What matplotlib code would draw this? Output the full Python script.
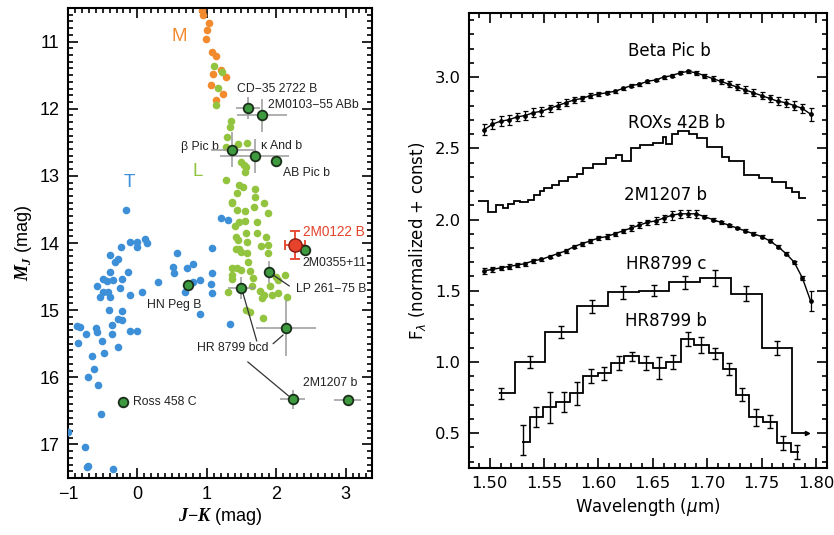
import matplotlib
matplotlib.use('Agg')
import matplotlib.pyplot as plt
from matplotlib.ticker import MultipleLocator, FixedLocator

plt.rcParams['mathtext.fontset'] = 'custom'
plt.rcParams['mathtext.rm'] = 'DejaVu Sans'
plt.rcParams['mathtext.it'] = 'DejaVu Sans:italic'
plt.rcParams['mathtext.bf'] = 'Liberation Serif:bold'
plt.rcParams['mathtext.bfit'] = 'Liberation Serif:bold:italic'

# ---------------- Left panel data (J-K, M_J) ----------------
m_jk = [0.93, 0.95, 1.03, 1.01, 0.99, 1.08, 1.14, 1.20, 1.27, 1.09, 1.06, 1.23, 1.14]
m_mj = [10.53, 10.60, 10.72, 10.82, 10.96, 11.15, 11.22, 11.42, 11.52, 11.49, 11.64, 11.78, 11.87]

l_jk = [1.10, 1.22, 1.16, 1.14,
        1.35, 1.33, 1.29, 1.27, 1.45, 1.58,
        1.50, 1.53, 1.56, 1.55,
        1.27, 1.46, 1.52, 1.69, 1.43, 1.69,
        1.36, 1.37, 1.83, 1.68, 1.43, 1.55, 1.88,
        1.46, 1.55, 1.73, 1.40, 1.56, 1.73, 1.42,
        1.86, 1.45, 1.58, 1.88, 1.47, 1.50, 1.42,
        1.58, 1.78, 1.88, 1.60, 1.36, 1.43,
        1.50, 1.62, 1.37, 1.37, 1.66, 2.12, 2.00,
        2.02, 1.30, 1.65, 1.76, 1.91, 1.83,
        1.94, 2.02, 2.15, 1.79, 1.62, 1.57, 1.81]
l_mj = [11.36, 11.46, 11.69, 11.94,
        12.19, 12.27, 12.42, 12.57, 12.52, 12.51,
        12.79, 12.84, 12.87, 12.94,
        13.06, 13.13, 13.16, 13.19, 13.25, 13.31,
        13.39, 13.40, 13.40, 13.46, 13.51, 13.52, 13.55,
        13.69, 13.67, 13.69, 13.75, 13.85, 13.85, 13.91,
        13.91, 13.96, 13.99, 14.03, 14.09, 14.13, 14.09,
        14.15, 14.04, 14.15, 14.28, 14.37, 14.37,
        14.40, 14.42, 14.48, 14.54, 14.52, 14.48, 14.50,
        14.55, 14.73, 14.64, 14.72, 14.64, 14.78,
        14.78, 14.75, 14.81, 14.82, 15.03, 15.00, 15.12]

t_jk = [-0.17, -0.11, -0.01, 0.11, 0.14, -0.01, -0.24, -0.40, -0.28, -0.32,
        -0.40, -0.14, -0.50, -0.44, -0.35, -0.22, -0.58, -0.25, -0.50, -0.42,
        -0.54, -0.40, -0.11, 0.06, 0.29, 0.57, 0.51, 0.53, 0.71, 0.80,
        0.90, 0.80, 0.68, 1.07, 1.07, 1.06, 1.07, 1.20, 1.30, -0.41,
        -0.22, 0.90, 1.33, -0.87, -0.83, -0.60, -0.58, -0.37, -0.28, -0.22,
        -0.11, -0.01, -0.37, -0.74, -0.86, -0.51, -0.28, -0.48, -0.66, -0.63,
        -0.71, -0.57, -0.53, -1.00, -0.76, -0.73, -0.71, -0.35]
t_mj = [13.51, 13.99, 13.99, 13.94, 14.00, 14.06, 14.06, 14.18, 14.24, 14.28,
        14.43, 14.43, 14.54, 14.57, 14.55, 14.54, 14.64, 14.67, 14.73, 14.73,
        14.81, 14.81, 14.78, 14.73, 14.58, 14.15, 14.36, 14.45, 14.37, 14.31,
        14.55, 14.58, 14.73, 14.07, 14.45, 14.61, 14.74, 13.63, 13.66, 15.00,
        15.01, 15.05, 15.20, 15.24, 15.25, 15.27, 15.33, 15.22, 15.13, 15.15,
        15.31, 15.31, 15.36, 15.36, 15.49, 15.46, 15.55, 15.64, 15.69, 15.87,
        16.00, 16.11, 16.55, 16.82, 17.04, 17.34, 17.32, 17.36]

# young companions
comp_jk   = [1.59, 1.79, 1.37, 1.69, 2.00, 2.41, 1.89, 0.73, 1.50, 2.14, 2.24, 3.03, -0.21]
comp_mj   = [11.99, 12.10, 12.61, 12.70, 12.78, 14.10, 14.43, 14.63, 14.67, 15.27, 16.33, 16.34, 16.37]
comp_xerr = [0.17, 0.36, 0.31, 0.50, 0.06, 0.05, 0.05, 0.03, 0.20, 0.43, 0.18, 0.19, 0.0]
comp_yerr = [0.17, 0.25, 0.26, 0.25, 0.06, 0.05, 0.16, 0.03, 0.17, 0.42, 0.14, 0.06, 0.0]

# 2M0122 B
red_jk, red_mj, red_xerr, red_yerr = 2.27, 14.03, 0.14, 0.21

# ---------------- Right panel data (spectra) ----------------
grid_wl = [1.495, 1.5025, 1.51, 1.5175, 1.525, 1.5325, 1.54, 1.5475, 1.555, 1.5625,
           1.57, 1.5775, 1.585, 1.5925, 1.60, 1.6075, 1.615, 1.6225, 1.63, 1.6375,
           1.645, 1.6525, 1.66, 1.6675, 1.675, 1.6825, 1.69, 1.6975, 1.705, 1.7125,
           1.72, 1.7275, 1.735, 1.7425, 1.75, 1.7575, 1.765, 1.7725, 1.78, 1.7875, 1.795]

beta_flux = [2.63, 2.67, 2.69, 2.70, 2.72, 2.73, 2.75, 2.76, 2.78, 2.80,
             2.82, 2.84, 2.85, 2.87, 2.88, 2.89, 2.90, 2.92, 2.94, 2.95,
             2.97, 2.98, 3.00, 3.01, 3.03, 3.04, 3.03, 3.01, 2.99, 2.97,
             2.95, 2.93, 2.91, 2.89, 2.87, 2.85, 2.83, 2.82, 2.80, 2.78, 2.74]
beta_err = [0.04, 0.035, 0.035, 0.035, 0.03, 0.03, 0.03, 0.03, 0.025, 0.025,
            0.025, 0.02, 0.02, 0.015, 0.015, 0.012, 0.012, 0.01, 0.01, 0.01,
            0.01, 0.01, 0.01, 0.01, 0.01, 0.01, 0.012, 0.015, 0.018, 0.02,
            0.02, 0.022, 0.025, 0.025, 0.025, 0.025, 0.028, 0.028, 0.03, 0.03, 0.045]

m1207_flux = [1.64, 1.65, 1.66, 1.67, 1.68, 1.69, 1.71, 1.72, 1.74, 1.76,
              1.78, 1.81, 1.83, 1.85, 1.87, 1.88, 1.90, 1.92, 1.94, 1.96,
              1.98, 1.99, 2.01, 2.03, 2.04, 2.04, 2.04, 2.02, 2.00, 1.98,
              1.96, 1.94, 1.92, 1.90, 1.88, 1.85, 1.81, 1.76, 1.70, 1.59, 1.43]
m1207_err = [0.02, 0.02, 0.015, 0.015, 0.015, 0.015, 0.015, 0.012, 0.012, 0.012,
             0.012, 0.012, 0.015, 0.015, 0.015, 0.015, 0.015, 0.015, 0.02, 0.02,
             0.02, 0.025, 0.025, 0.03, 0.03, 0.025, 0.03, 0.01, 0.01, 0.01,
             0.01, 0.01, 0.01, 0.01, 0.01, 0.01, 0.01, 0.01, 0.012, 0.015, 0.07]

roxs_edges = [1.489, 1.498, 1.506, 1.512, 1.517, 1.522, 1.528, 1.535, 1.541, 1.546,
              1.550, 1.557, 1.564, 1.572, 1.580, 1.586, 1.595, 1.607, 1.616, 1.622,
              1.630, 1.638, 1.650, 1.659, 1.662, 1.668, 1.673, 1.683, 1.691, 1.700,
              1.714, 1.720, 1.734, 1.748, 1.760, 1.772, 1.778, 1.784, 1.791]
roxs_flux = [2.13, 2.05, 2.10, 2.08, 2.11, 2.13, 2.12, 2.14, 2.17, 2.20,
             2.22, 2.24, 2.27, 2.30, 2.32, 2.36, 2.39, 2.43, 2.45, 2.41,
             2.50, 2.52, 2.54, 2.58, 2.53, 2.60, 2.62, 2.60, 2.57, 2.51,
             2.44, 2.41, 2.31, 2.29, 2.26, 2.22, 2.19, 2.15]

hrc_edges = [1.5085, 1.523, 1.551, 1.580, 1.6085, 1.637, 1.665, 1.693, 1.722, 1.750, 1.778, 1.792]
hrc_flux = [0.78, 1.00, 1.21, 1.39, 1.49, 1.50, 1.56, 1.59, 1.48, 1.10, 0.50]
hrc_wl = [1.510, 1.537, 1.566, 1.594, 1.623, 1.651, 1.680, 1.707, 1.736, 1.764]
hrc_pt = [0.78, 1.00, 1.21, 1.39, 1.49, 1.50, 1.56, 1.59, 1.48, 1.10]
hrc_err = [0.04, 0.04, 0.045, 0.045, 0.045, 0.04, 0.045, 0.055, 0.055, 0.05]

hrb_edges = [1.530, 1.5367, 1.5489, 1.5612, 1.5734, 1.5862, 1.5994, 1.6116, 1.6239, 1.6370,
             1.6498, 1.6621, 1.6758, 1.6881, 1.7012, 1.7141, 1.7263, 1.7385, 1.7514, 1.7645,
             1.7768, 1.7844]
hrb_flux = [0.44, 0.61, 0.68, 0.72, 0.78, 0.90, 0.92, 0.99, 1.04, 0.99,
            0.96, 1.00, 1.16, 1.12, 1.06, 0.95, 0.77, 0.61, 0.58, 0.43, 0.37]
hrb_wl = [1.5306, 1.5428, 1.5550, 1.5679, 1.5801, 1.5927, 1.6055, 1.6186, 1.6309, 1.6437,
          1.6560, 1.6688, 1.6820, 1.6942, 1.7070, 1.7196, 1.7324, 1.7446, 1.7575, 1.7697, 1.7829]
hrb_pt = [0.45, 0.61, 0.68, 0.72, 0.78, 0.90, 0.92, 0.99, 1.04, 0.99,
          0.96, 1.00, 1.16, 1.12, 1.06, 0.95, 0.77, 0.61, 0.58, 0.43, 0.37]
hrb_err = [0.105, 0.07, 0.107, 0.07, 0.082, 0.049, 0.047, 0.049, 0.031, 0.049,
           0.078, 0.047, 0.047, 0.058, 0.038, 0.044, 0.047, 0.058, 0.047, 0.047, 0.049]

# ---------------- Figure ----------------
fig = plt.figure(figsize=(8.34, 5.35), dpi=100)
ax1 = fig.add_axes([0.0815, 0.1065, 0.3645, 0.8785])
ax2 = fig.add_axes([0.5624, 0.1252, 0.4290, 0.8505])

C_ORANGE = '#F28A2E'
C_BLUE = '#3D8FD8'
C_LIME = '#93C43F'
C_GREEN = '#3E9A3E'
C_RED = '#E5432B'
C_GRAY = '#9a9a9a'
LF = 'Liberation Sans'

ax1.scatter(m_jk, m_mj, s=30, color=C_ORANGE, lw=0, zorder=2)
ax1.scatter(l_jk, l_mj, s=30, color=C_LIME, lw=0, zorder=3)
ax1.scatter(t_jk, t_mj, s=30, color=C_BLUE, lw=0, zorder=3)

ax1.errorbar(comp_jk, comp_mj, xerr=comp_xerr, yerr=comp_yerr, fmt='none',
             ecolor=C_GRAY, elinewidth=1.1, capsize=0, zorder=4)
ax1.scatter(comp_jk, comp_mj, s=48, color=C_GREEN, edgecolors='#1a2e1a', linewidths=1.3, zorder=6)

ax1.errorbar([red_jk], [red_mj], xerr=[red_xerr], yerr=[red_yerr], fmt='none',
             ecolor=C_RED, elinewidth=1.3, capsize=3.5, capthick=1.3, zorder=5)
ax1.scatter([red_jk], [red_mj], s=90, color=C_RED, edgecolors='#8a1a10', linewidths=1.0, zorder=7)

# leader lines
lc = '#333333'
ax1.annotate('', xy=(comp_jk[6], comp_mj[6]), xytext=(2.19, 14.64),
             arrowprops=dict(arrowstyle='-', color=lc, lw=0.9, shrinkA=0, shrinkB=4))
ax1.annotate('', xy=(comp_jk[8], comp_mj[8]), xytext=(1.72, 15.46),
             arrowprops=dict(arrowstyle='-', color=lc, lw=0.9, shrinkA=0, shrinkB=4))
ax1.annotate('', xy=(2.10, 15.37), xytext=(1.955, 15.50),
             arrowprops=dict(arrowstyle='-', color=lc, lw=0.9, shrinkA=0, shrinkB=0))
ax1.annotate('', xy=(comp_jk[10], comp_mj[10]), xytext=(1.59, 15.77),
             arrowprops=dict(arrowstyle='-', color=lc, lw=0.9, shrinkA=0, shrinkB=4))

fs = 8.8
tc = '#222222'
ax1.text(0.61, 10.92, 'M', color=C_ORANGE, fontsize=13.5, family=LF, ha='center', va='center')
ax1.text(-0.11, 13.10, 'T', color=C_BLUE, fontsize=13.5, family=LF, ha='center', va='center')
ax1.text(0.87, 12.94, 'L', color=C_LIME, fontsize=13.5, family=LF, ha='center', va='center')
ax1.text(1.44, 11.70, 'CD\u221235 2722 B', fontsize=fs, family=LF, color=tc, va='center')
ax1.text(1.88, 11.94, '2M0103\u221255 ABb', fontsize=fs, family=LF, color=tc, va='center')
ax1.text(1.18, 12.57, '\u03b2 Pic b', fontsize=fs, family=LF, color=tc, va='center', ha='right')
ax1.text(1.78, 12.56, '\u03ba And b', fontsize=fs, family=LF, color=tc, va='center')
ax1.text(2.10, 12.96, 'AB Pic b', fontsize=fs, family=LF, color=tc, va='center')
ax1.text(2.38, 13.84, '2M0122 B', fontsize=9.8, family=LF, color=C_RED, va='center')
ax1.text(2.38, 14.30, '2M0355+11', fontsize=fs, family=LF, color=tc, va='center')
ax1.text(2.29, 14.68, 'LP 261\u221275 B', fontsize=fs, family=LF, color=tc, va='center')
ax1.text(0.14, 14.92, 'HN Peg B', fontsize=fs, family=LF, color=tc, va='center')
ax1.text(0.86, 15.56, 'HR 8799 bcd', fontsize=fs, family=LF, color=tc, va='center')
ax1.text(2.38, 16.08, '2M1207 b', fontsize=fs, family=LF, color=tc, va='center')
ax1.text(-0.06, 16.37, 'Ross 458 C', fontsize=fs, family=LF, color=tc, va='center')

ax1.set_xlim(-1.0, 3.38)
ax1.set_ylim(17.5, 10.5)
ax1.xaxis.set_major_locator(FixedLocator([-1, 0, 1, 2, 3]))
ax1.xaxis.set_minor_locator(MultipleLocator(0.1))
ax1.yaxis.set_major_locator(FixedLocator([11, 12, 13, 14, 15, 16, 17]))
ax1.yaxis.set_minor_locator(MultipleLocator(0.1))
ax1.set_xticklabels(['\u22121', '0', '1', '2', '3'])
ax1.tick_params(which='both', direction='in', top=True, right=True, width=1.2)
ax1.tick_params(which='major', length=7, labelsize=13, pad=6)
ax1.tick_params(which='minor', length=3.5)
for lab in ax1.get_xticklabels() + ax1.get_yticklabels():
    lab.set_family(LF)
for sp in ax1.spines.values():
    sp.set_linewidth(1.5)
ax1.set_xlabel(r'$\mathbfit{J}\mathbf{-}\mathbfit{K}$ (mag)', fontsize=13, family=LF, labelpad=2)
ax1.set_ylabel(r'$\mathbfit{M}_{\mathbfit{J}}$ (mag)', fontsize=13, family=LF, labelpad=4)

# ---------------- Right panel ----------------
k = 'black'
ax2.errorbar(grid_wl, beta_flux, yerr=beta_err, fmt='-o', color=k, ms=2.4, lw=1.0,
             elinewidth=0.9, capsize=1.8, capthick=0.9)
ax2.stairs(roxs_flux, roxs_edges, baseline=None, color=k, lw=1.3)
ax2.errorbar(grid_wl, m1207_flux, yerr=m1207_err, fmt='-o', color=k, ms=2.4, lw=1.0,
             elinewidth=0.9, capsize=1.8, capthick=0.9)
ax2.stairs(hrc_flux, hrc_edges, baseline=None, color=k, lw=1.3)
ax2.errorbar(hrc_wl, hrc_pt, yerr=hrc_err, fmt='none', ecolor=k, elinewidth=1.0,
             capsize=2.5, capthick=1.0)
ax2.plot([hrc_edges[-1]], [hrc_flux[-1]], marker='>', ms=3, color=k)
ax2.stairs(hrb_flux, hrb_edges, baseline=None, color=k, lw=1.3)
ax2.errorbar(hrb_wl, hrb_pt, yerr=hrb_err, fmt='none', ecolor=k, elinewidth=1.0,
             capsize=2.5, capthick=1.0)

RF = 'DejaVu Sans'
rfs = 12
ax2.text(1.665, 3.18, 'Beta Pic b', fontsize=rfs, family=RF, ha='center', va='center')
ax2.text(1.672, 2.68, 'ROXs 42B b', fontsize=rfs, family=RF, ha='center', va='center')
ax2.text(1.662, 2.175, '2M1207 b', fontsize=rfs, family=RF, ha='center', va='center')
ax2.text(1.662, 1.685, 'HR8799 c', fontsize=rfs, family=RF, ha='center', va='center')
ax2.text(1.662, 1.287, 'HR8799 b', fontsize=rfs, family=RF, ha='center', va='center')

ax2.set_xlim(1.481, 1.81)
ax2.set_ylim(0.255, 3.45)
ax2.xaxis.set_major_locator(FixedLocator([1.50, 1.55, 1.60, 1.65, 1.70, 1.75, 1.80]))
ax2.xaxis.set_minor_locator(MultipleLocator(0.01))
ax2.yaxis.set_major_locator(FixedLocator([0.5, 1.0, 1.5, 2.0, 2.5, 3.0]))
ax2.yaxis.set_minor_locator(MultipleLocator(0.1))
ax2.set_xticklabels(['1.50', '1.55', '1.60', '1.65', '1.70', '1.75', '1.80'])
ax2.set_yticklabels(['0.5', '1.0', '1.5', '2.0', '2.5', '3.0'])
ax2.tick_params(which='both', direction='in', top=True, right=True, width=1.2)
ax2.tick_params(which='major', length=7, labelsize=11.8, pad=6)
ax2.tick_params(which='minor', length=3.5)
for lab in ax2.get_xticklabels() + ax2.get_yticklabels():
    lab.set_family(RF)
for sp in ax2.spines.values():
    sp.set_linewidth(1.5)
ax2.set_xlabel(r'Wavelength ($\mu$m)', fontsize=12, family=RF, labelpad=3)
ax2.set_ylabel(r'F$_{\lambda}$ (normalized + const)', fontsize=12, family=RF, labelpad=5)

fig.savefig('out.png', dpi=100)
